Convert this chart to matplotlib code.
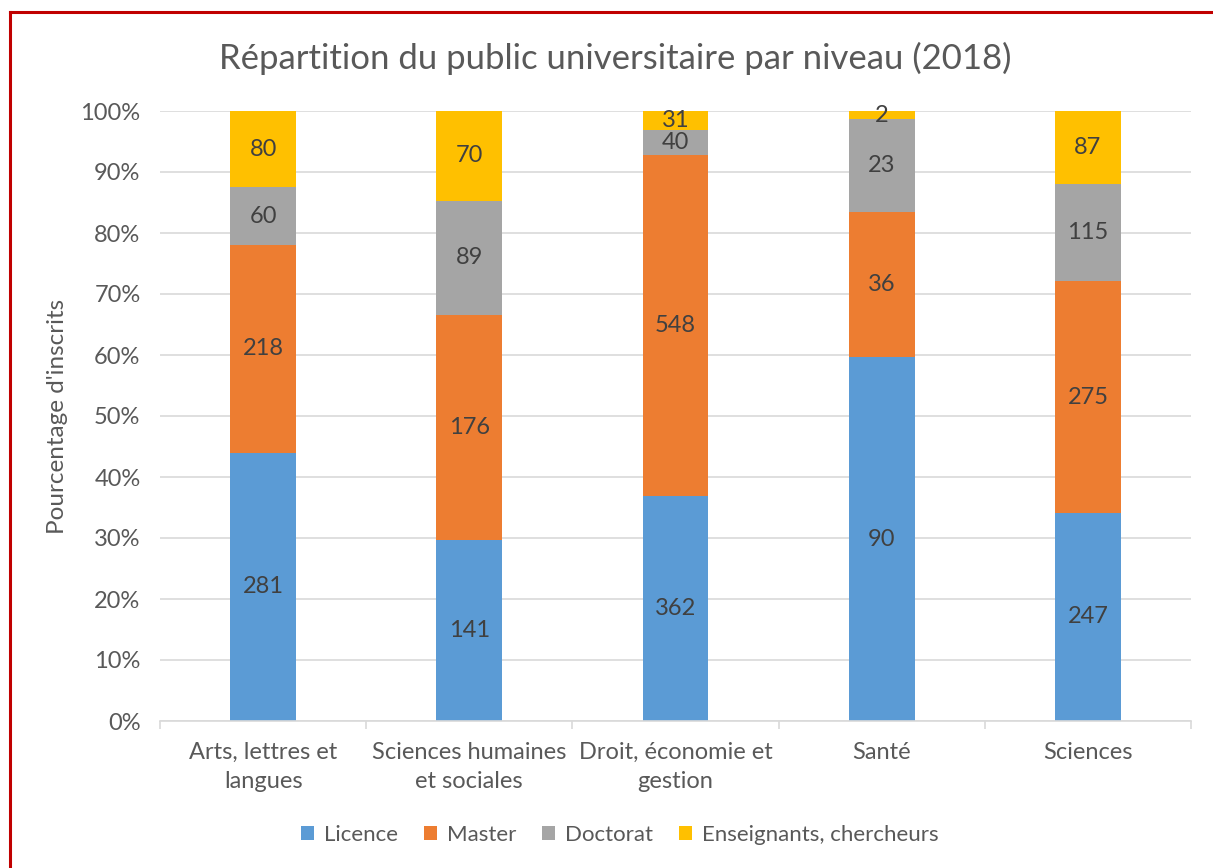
import numpy as np
import matplotlib.pyplot as plt
from matplotlib.lines import Line2D

plt.rcParams['font.family'] = ['Lato', 'DejaVu Sans']

# Data
categories = ["Arts, lettres et\nlangues", "Sciences humaines\net sociales",
              "Droit, économie et\ngestion", "Santé", "Sciences"]
series_names = ["Licence", "Master", "Doctorat", "Enseignants, chercheurs"]
licence = [281, 141, 362, 90, 247]
master = [218, 176, 548, 36, 275]
doctorat = [60, 89, 40, 23, 115]
enseignants = [80, 70, 31, 2, 87]
colors = ["#5B9BD5", "#ED7D31", "#A5A5A5", "#FFC000"]

values = np.array([licence, master, doctorat, enseignants], dtype=float)
totals = values.sum(axis=0)
pct = values / totals * 100

W, H = 1213, 868
fig = plt.figure(figsize=(W / 100, H / 100), dpi=100)
ax = fig.add_axes([160 / W, 1 - 721 / H, (1191 - 160) / W, (721 - 111) / H])

x = np.arange(len(categories))
bottom = np.zeros(len(categories))
for i, name in enumerate(series_names):
    ax.bar(x, pct[i], width=0.32, bottom=bottom, color=colors[i], label=name, zorder=2)
    for j in range(len(categories)):
        ax.text(x[j], bottom[j] + pct[i][j] / 2, f"{int(values[i][j])}",
                ha='center', va='center', fontsize=17, color='#404040', zorder=3)
    bottom += pct[i]

ax.set_xlim(-0.5, len(categories) - 0.5)
ax.set_ylim(0, 100)
ax.set_yticks(np.arange(0, 101, 10))
ax.set_yticklabels([f"{v}%" for v in range(0, 101, 10)])
ax.yaxis.grid(True, color='#D9D9D9', linewidth=1.2, zorder=0)
ax.set_axisbelow(True)
for s in ['top', 'right', 'left']:
    ax.spines[s].set_visible(False)
ax.spines['bottom'].set_color('#D9D9D9')
ax.spines['bottom'].set_linewidth(1.2)
ax.tick_params(axis='y', length=0, labelsize=17, labelcolor='#595959', pad=14)

ax.set_xticks(x)
ax.set_xticklabels(categories, linespacing=1.5)
ax.tick_params(axis='x', length=0, labelsize=17, labelcolor='#595959', pad=15)
ax.set_xticks(np.arange(-0.5, len(categories)), minor=True)
ax.tick_params(axis='x', which='minor', length=6, color='#D9D9D9', width=1.2)

ax.set_ylabel("Pourcentage d'inscrits", fontsize=17.5, color='#595959', labelpad=9)
fig.text(615 / W, 1 - 58 / H, "Répartition du public universitaire par niveau (2018)",
         ha='center', va='center', fontsize=25, color='#595959')

fig.legend(loc='center', bbox_to_anchor=(620 / W, 1 - 835 / H), ncol=4, frameon=False,
           fontsize=16, labelcolor='#595959', handlelength=0.6, handleheight=0.6,
           columnspacing=1.15, handletextpad=0.45)

# red frame (left and top)
fig.add_artist(Line2D([9.5 / W, 9.5 / W], [0, 1 - 12 / H], color='#C00000', linewidth=2.2))
fig.add_artist(Line2D([9.5 / W, 1], [1 - 12 / H, 1 - 12 / H], color='#C00000', linewidth=2.2))

fig.savefig("out.png", dpi=100)
